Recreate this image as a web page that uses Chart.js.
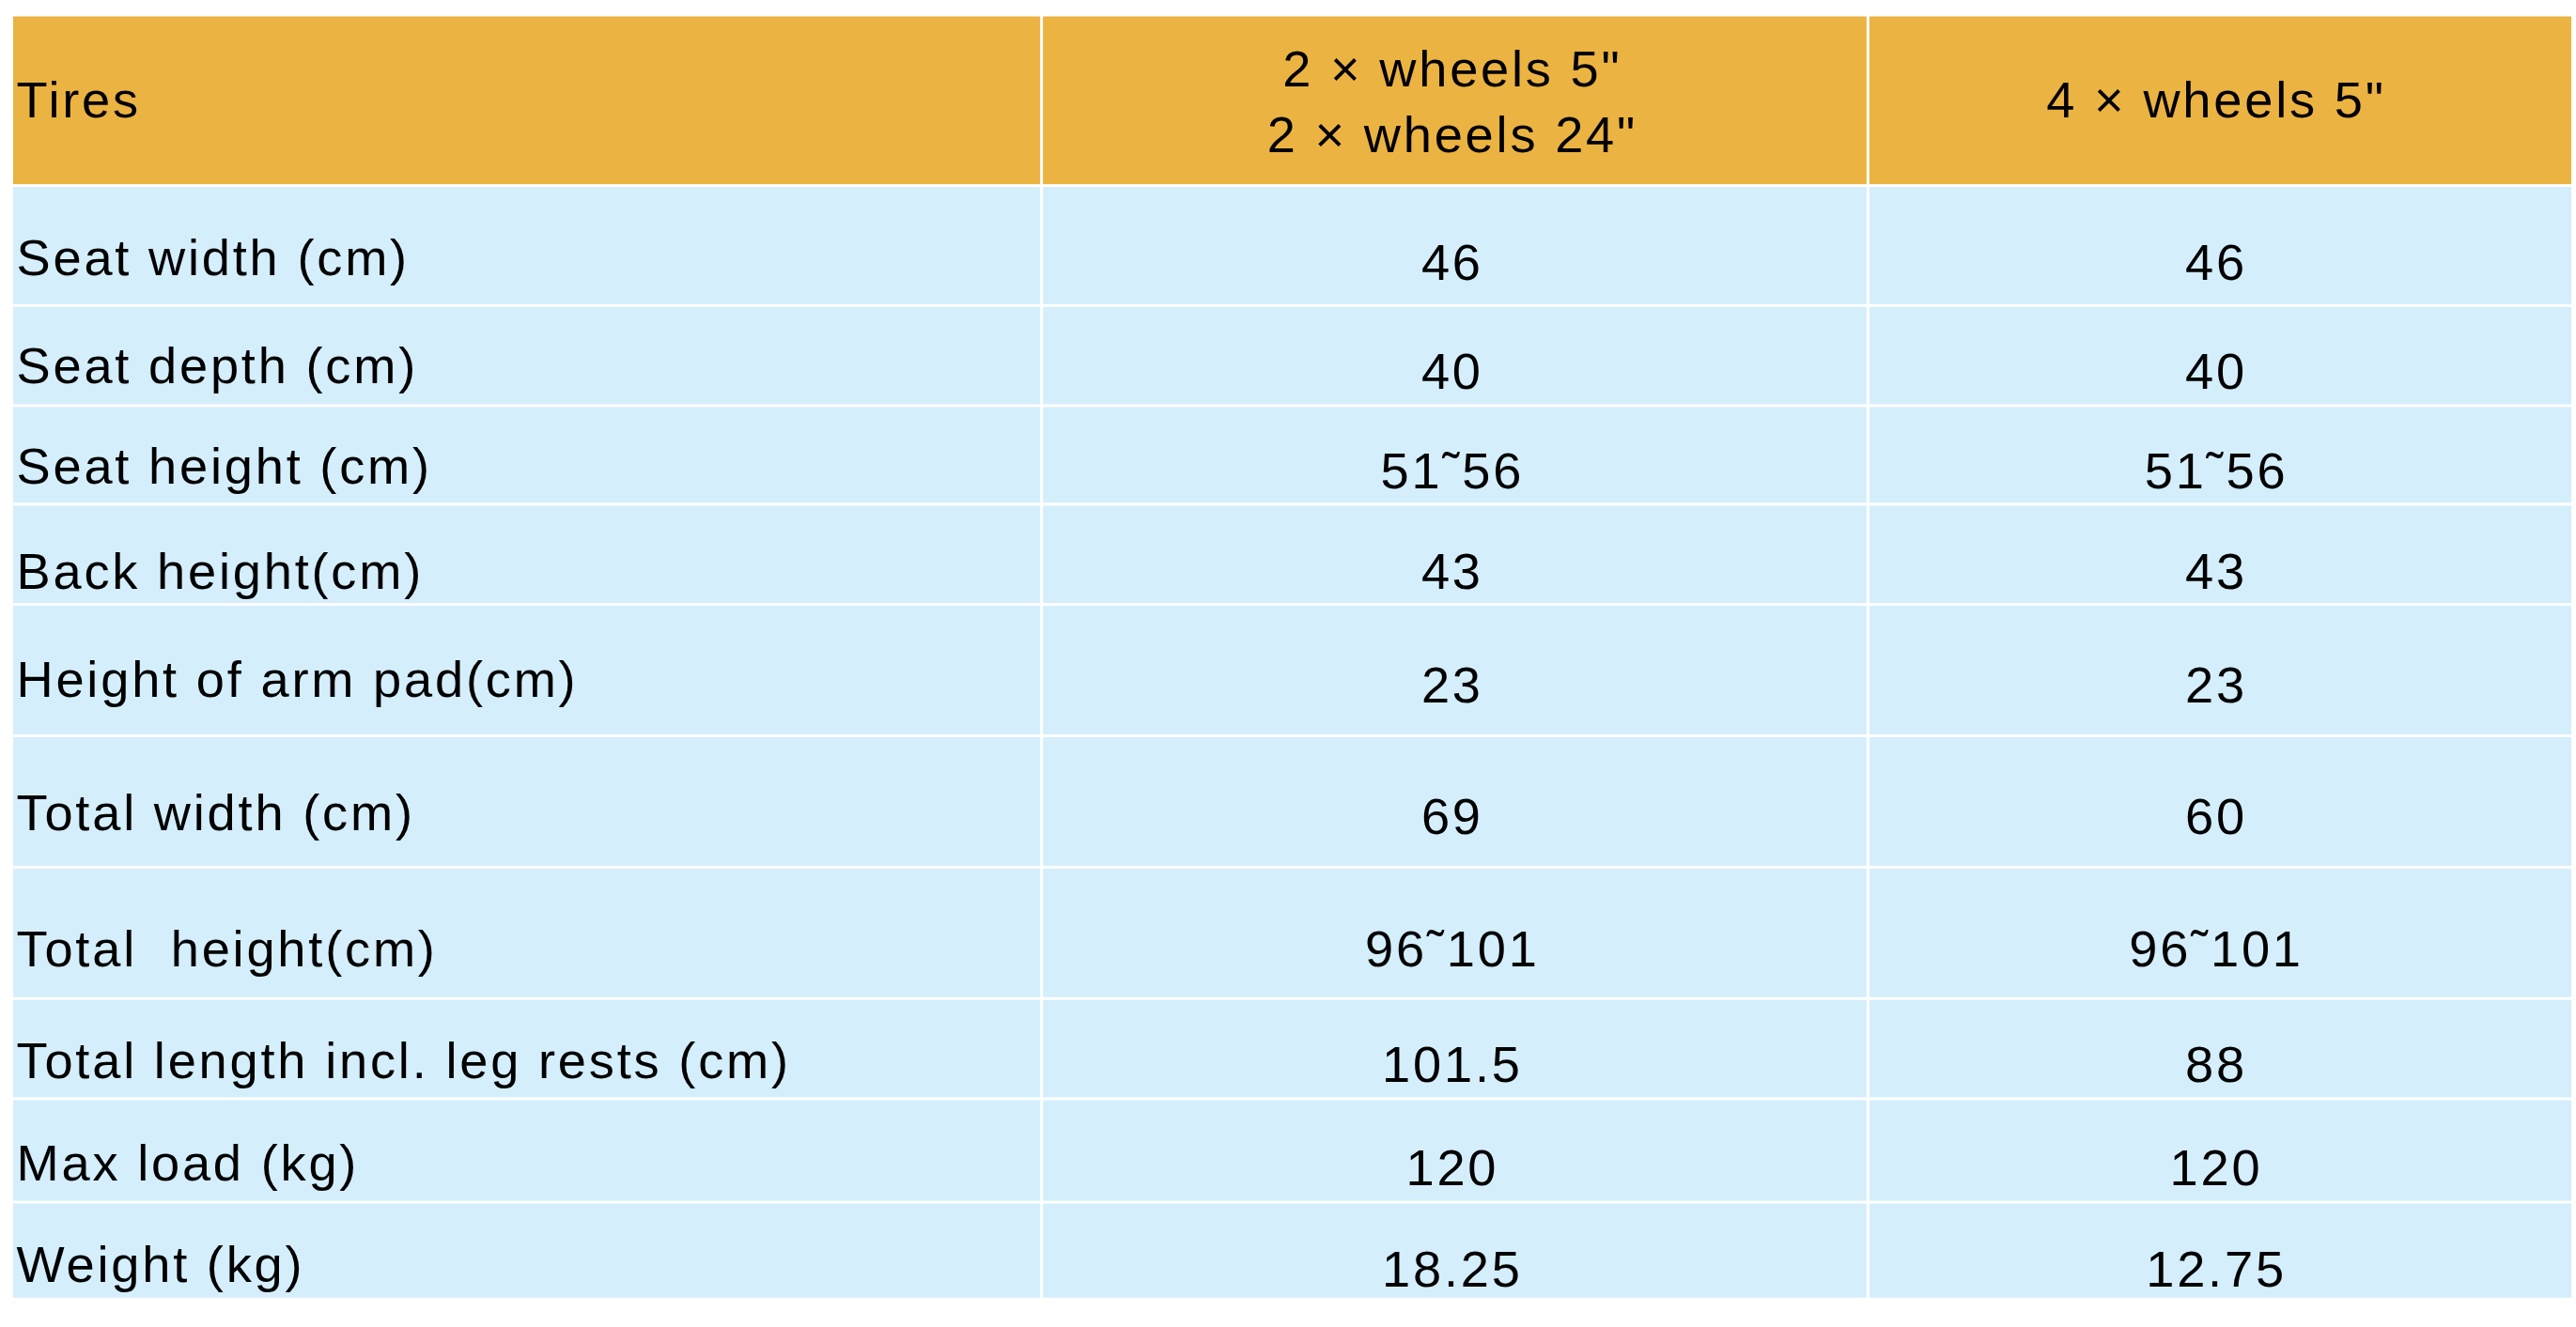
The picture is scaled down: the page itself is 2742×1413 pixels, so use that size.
<!DOCTYPE html>
<html><head><meta charset="utf-8">
<script src="https://cdn.jsdelivr.net/npm/chart.js@4"></script>
<style>html,body{margin:0;padding:0;background:#fff}#wrap{width:2742px;height:1413px}</style>
</head><body><div id="wrap"><canvas id="myChart"></canvas></div>
<script>
const headerLabel = "Tires"
const headerA = ["2 × wheels 5\"", "2 × wheels 24\""]
const headerB = ["4 × wheels 5\""]
const rowLabels = ["Seat width (cm)", "Seat depth (cm)", "Seat height (cm)", "Back height(cm)",
  "Height of arm pad(cm)", "Total width (cm)", "Total  height(cm)",
  "Total length incl. leg rests (cm)", "Max load (kg)", "Weight (kg)"]
const wheelsA = ["46", "40", "51˜56", "43", "23", "69", "96˜101", "101.5", "120", "18.25"]
const wheelsB = ["46", "40", "51˜56", "43", "23", "60", "96˜101", "88", "120", "12.75"]

// layout in reference units (1568 x 808)
const rowEdges = [10, 113, 186, 247, 307, 368, 448, 528, 608, 669, 732, 791]
const colEdges = [8, 634, 1137, 1566]
const labelY = [159, 225, 286, 350, 416, 497, 580, 648, 710, 772]
const valueY = [162, 228, 289, 350, 419, 499, 580, 650, 713, 775]
const colCenters = [884, 1349]

const tablePlugin = {
  id: 'table',
  afterDraw(chart) {
    const ctx = chart.ctx
    const x = chart.scales.x, y = chart.scales.y
    const px = v => x.getPixelForValue(v), py = v => y.getPixelForValue(v)
    const k = px(1) - px(0)
    ctx.save()
    for (let r = 0; r < rowEdges.length - 1; r++) {
      ctx.fillStyle = r === 0 ? '#ebb342' : '#d4eefc'
      for (let c = 0; c < colEdges.length - 1; c++) {
        const x0 = px(colEdges[c]) + (c ? 1.5 : 0), x1 = px(colEdges[c + 1]) - 1.5
        const y0 = py(rowEdges[r]) + (r ? 1.5 : 0), y1 = py(rowEdges[r + 1]) - 1.5
        ctx.fillRect(x0, y0, x1 - x0, y1 - y0)
      }
    }
    ctx.fillStyle = '#000'
    ctx.font = (31 * k) + 'px "Liberation Sans", Arial, sans-serif'
    ctx.letterSpacing = (1.6 * k) + 'px'
    ctx.textBaseline = 'middle'
    ctx.textAlign = 'left'
    ctx.fillText(headerLabel, px(10), py(63))
    rowLabels.forEach((l, i) => ctx.fillText(l, px(10), py(labelY[i])))
    ctx.textAlign = 'center'
    ctx.fillText(headerA[0], px(colCenters[0]), py(44))
    ctx.fillText(headerA[1], px(colCenters[0]), py(84))
    ctx.fillText(headerB[0], px(colCenters[1]), py(63))
    wheelsA.forEach((v, i) => ctx.fillText(v, px(colCenters[0]), py(valueY[i])))
    wheelsB.forEach((v, i) => ctx.fillText(v, px(colCenters[1]), py(valueY[i])))
    ctx.restore()
  }
}

const config = {
  type: 'scatter',
  data: { datasets: [{ data: [], pointRadius: 0 }] },
  options: {
    responsive: true, maintainAspectRatio: false, animation: false,
    layout: { padding: 0 },
    plugins: { legend: { display: false }, tooltip: { enabled: false } },
    scales: {
      x: { type: 'linear', min: 0, max: 1568, display: false },
      y: { type: 'linear', min: 0, max: 808, reverse: true, display: false }
    }
  },
  plugins: [tablePlugin]
}
const myChart = new Chart(document.getElementById('myChart'), config)
</script></body></html>
